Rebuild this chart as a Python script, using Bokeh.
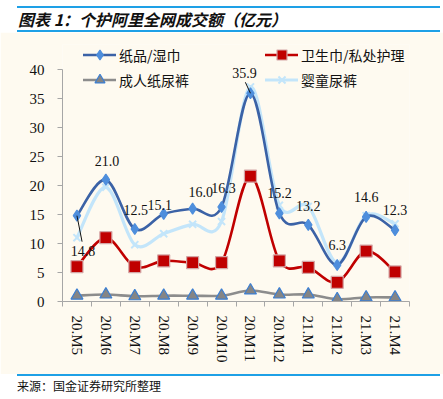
import numpy as np
from bokeh.plotting import figure
from bokeh.models import (ColumnDataSource, Legend, LegendItem, FixedTicker, Div,
                          Range1d, LabelSet)
from bokeh.layouts import column
from bokeh.embed import file_html
from bokeh.resources import INLINE

# ---------------- data ----------------
categories = ["20.M5", "20.M6", "20.M7", "20.M8", "20.M9", "20.M10",
              "20.M11", "20.M12", "21.M1", "21.M2", "21.M3", "21.M4"]
paper_wipes = [14.8, 21.0, 12.5, 15.1, 16.0, 16.3, 35.9, 15.2, 13.2, 6.3, 14.6, 12.3]
sanitary = [6.0, 11.0, 6.0, 7.0, 6.7, 6.7, 21.6, 7.0, 5.9, 3.3, 8.7, 5.1]
adult_diapers = [1.0, 1.2, 0.9, 1.0, 1.0, 1.0, 1.9, 1.2, 1.2, 0.4, 0.7, 0.7]
baby_diapers = [11.0, 19.7, 9.8, 11.7, 13.3, 13.8, 37.0, 16.6, 16.4, 6.6, 14.8, 13.4]
y_ticks = [0, 5, 10, 15, 20, 25, 30, 35, 40]

names = ["纸品/湿巾", "卫生巾/私处护理", "成人纸尿裤", "婴童尿裤"]

BG = "#FEFAF0"
xs = list(range(len(categories)))

# label offsets (screen px) for the data labels of the first series
label_dx = [6, 1, 1, -4, 8, 2, -6, 0, 0, 0, 0, 0]
label_dy = [-35, 19, 19, 9, 17, 19, 20, 20, 19, 20, 20, 20]


def smooth(xv, yv, t=1.0 / 6.0):
    n = len(xv)
    d = dict(x0=[], y0=[], x1=[], y1=[], cx0=[], cy0=[], cx1=[], cy1=[])
    for i in range(n - 1):
        a = i - 1 if i > 0 else i
        b = i + 2 if i + 2 < n else i + 1
        d["x0"].append(xv[i]); d["y0"].append(yv[i])
        d["x1"].append(xv[i + 1]); d["y1"].append(yv[i + 1])
        d["cx0"].append(xv[i] + (xv[i + 1] - xv[a]) * t)
        d["cy0"].append(yv[i] + (yv[i + 1] - yv[a]) * t)
        d["cx1"].append(xv[i + 1] - (xv[b] - xv[i]) * t)
        d["cy1"].append(yv[i + 1] - (yv[b] - yv[i]) * t)
    return ColumnDataSource(d)


px_x = 347.0 / len(categories)
px_y = 232.0 / 40.0
y_top = 40 + 25.0 / px_y   # extra head-room for the legend

p = figure(width=443, height=342, output_backend="svg", toolbar_location=None,
           x_range=Range1d(-0.5, len(categories) - 0.5), y_range=Range1d(0, y_top),
           min_border_left=62, min_border_right=34, min_border_top=12, min_border_bottom=73,
           background_fill_color=BG, border_fill_color=BG, outline_line_color=None)
p.grid.visible = False

styles = [
    # (values, line color, width, marker, fill, outline, size)
    (baby_diapers, "#C3E5FA", 3.2, "x", "#C3E5FA", "#C3E5FA", 10),
    (paper_wipes, "#3B62A6", 2.6, "diamond", "#4E8EDC", "#4E8EDC", 11),
    (sanitary, "#C00000", 2.6, "square", "#C00000", "#D4A5A5", 12),
    (adult_diapers, "#8C8C8C", 2.6, "triangle", "#858585", "#3C7FD2", 12),
]
order_names = [names[3], names[0], names[1], names[2]]
renderers = {}
for (vals, lc, lw, mk, fc, oc, sz), nm in zip(styles, order_names):
    lr = p.bezier(x0="x0", y0="y0", x1="x1", y1="y1", cx0="cx0", cy0="cy0",
                  cx1="cx1", cy1="cy1", source=smooth(xs, vals),
                  line_color=lc, line_width=lw, line_cap="round")
    mr = p.scatter(xs, vals, marker=mk, size=sz, fill_color=fc, line_color=oc,
                   line_width=2 if mk == "x" else 1.2)
    renderers[nm] = [lr, mr]

# data labels of 纸品/湿巾
lab = ColumnDataSource(dict(x=xs, y=paper_wipes,
                            t=["%.1f" % v for v in paper_wipes],
                            dx=label_dx, dy=label_dy))
p.add_layout(LabelSet(x="x", y="y", text="t", x_offset="dx", y_offset="dy", source=lab,
                      text_align="center", text_baseline="middle",
                      text_font="Liberation Serif", text_font_size="14px",
                      text_color="#111111"))

# leader lines for the two displaced labels
lead_idx = [0, 6]
p.segment(x0=[xs[i] for i in lead_idx], y0=[paper_wipes[i] for i in lead_idx],
          x1=[xs[i] + label_dx[i] * 0.85 / px_x for i in lead_idx],
          y1=[paper_wipes[i] + (label_dy[i] + (9 if label_dy[i] < 0 else -9)) / px_y
              for i in lead_idx],
          line_color="#111111", line_width=1)

# axes
xa = p.xaxis[0]
xa.ticker = FixedTicker(ticks=xs, minor_ticks=[i - 0.5 for i in range(len(categories) + 1)])
xa.major_label_overrides = {i: c for i, c in zip(xs, categories)}
xa.major_label_orientation = "vertical"
xa.major_tick_in = 0
xa.major_tick_out = 0
xa.minor_tick_in = 0
xa.minor_tick_out = 5
xa.minor_tick_line_color = "#A6A6A6"
xa.axis_line_color = "#A6A6A6"
xa.major_label_standoff = 9
xa.major_label_text_font = "Liberation Serif"
xa.major_label_text_font_size = "15px"
xa.major_label_text_color = "#111111"

ya = p.yaxis[0]
ya.ticker = FixedTicker(ticks=y_ticks)
ya.bounds = (y_ticks[0], y_ticks[-1])
ya.major_tick_in = 0
ya.major_tick_out = 5
ya.minor_tick_line_color = None
ya.major_tick_line_color = "#A6A6A6"
ya.axis_line_color = "#A6A6A6"
ya.major_label_standoff = 13
ya.major_label_text_font = "Liberation Serif"
ya.major_label_text_font_size = "15px"
ya.major_label_text_color = "#111111"

# legends (two columns)
def make_legend(items, loc):
    lg = Legend(items=[LegendItem(label=n, renderers=renderers[n]) for n in items],
                location=loc, orientation="vertical", padding=0, spacing=-3, margin=0,
                glyph_width=33, glyph_height=25, label_height=20, label_standoff=3,
                label_text_font="Noto Sans CJK SC", label_text_font_size="14px",
                label_text_color="#111111", background_fill_alpha=0,
                border_line_color=None)
    p.add_layout(lg, "center")

make_legend([names[0], names[2]], (21, 209))
make_legend([names[1], names[3]], (203, 209))

header = Div(text="图表 1：个护阿里全网成交额（亿元）", width=423, height=26, margin=(6, 0, 0, 17),
             styles={"border-top": "2px solid #1EA0E6", "border-bottom": "2px solid #1EA0E6",
                     "box-sizing": "border-box", "font-family": "Noto Sans CJK SC",
                     "font-size": "16px", "font-weight": "bold", "font-style": "italic",
                     "line-height": "22px", "color": "#111111", "padding-left": "1px"})
footer = Div(text="来源：国金证券研究所整理", width=423, height=20, margin=(0, 0, 0, 17),
             styles={"border-top": "2px solid #1EA0E6", "box-sizing": "border-box",
                     "font-family": "Noto Sans CJK SC", "font-size": "12px",
                     "line-height": "16px", "padding-top": "2px", "color": "#111111"})

layout = column(header, p, footer, spacing=0)
html = file_html(layout, INLINE)
html = html.replace("<body>", '<body style="background-color:%s">' % BG, 1)
open("out.html", "w").write(html)
